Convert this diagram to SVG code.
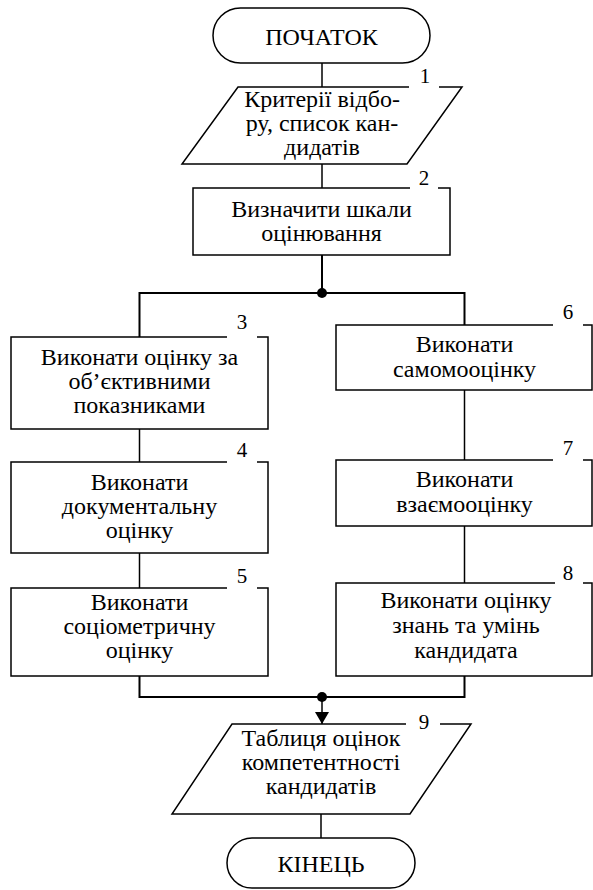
<svg xmlns="http://www.w3.org/2000/svg" width="593" height="890" viewBox="0 0 593 890">
<style>
.s{fill:#fff;stroke:#000;stroke-width:1.5}
.t{font-family:'Liberation Serif','Times New Roman','DejaVu Serif',serif;font-size:24px;text-anchor:middle;fill:#000}
.n{font-family:'Liberation Serif','Times New Roman','DejaVu Serif',serif;font-size:21px;text-anchor:middle;fill:#000}
.c{fill:none;stroke:#000;stroke-width:1.5}
.b{fill:none;stroke:#000;stroke-width:2}
.w{stroke:#fff;stroke-width:3}
</style>
<defs>
<marker id="arr" viewBox="0 0 12 20" refX="12" refY="10" markerWidth="12" markerHeight="20" markerUnits="userSpaceOnUse" orient="auto">
<path d="M0,3 L12,10 L0,17 Z" fill="#000"/>
</marker>
</defs>
<rect x="0" y="0" width="593" height="890" fill="#fff"/>
<g id="connectors">
<line class="c" x1="322" y1="63" x2="322" y2="87"/>
<line class="c" x1="322" y1="164" x2="322" y2="188"/>
<line class="b" x1="322" y1="255" x2="322" y2="293"/>
<polyline class="b" points="139.5,337 139.5,293 464.5,293 464.5,325"/>
<line class="c" x1="139.5" y1="429" x2="139.5" y2="462"/>
<line class="c" x1="139.5" y1="553" x2="139.5" y2="588"/>
<line class="c" x1="464.5" y1="390" x2="464.5" y2="460"/>
<line class="c" x1="464.5" y1="526" x2="464.5" y2="583"/>
<polyline class="b" points="139.5,676 139.5,697 464.5,697 464.5,676"/>
<line class="c" x1="322" y1="697" x2="322" y2="724" marker-end="url(#arr)"/>
<line class="c" x1="321" y1="814" x2="321" y2="838"/>
<circle cx="322" cy="293" r="5" fill="#000"/>
<circle cx="322" cy="697" r="5" fill="#000"/>
</g>
<g id="start">
<rect class="s" x="213" y="8" width="217" height="55" rx="27.5"/>
<text class="t" x="321.5" y="45">ПОЧАТОК</text>
</g>
<g id="n1">
<polygon class="s" points="238,87 462,87 407,164 182,164"/>
<line class="w" x1="409" y1="87" x2="439" y2="87"/>
<text class="n" x="425" y="83">1</text>
<text class="t" x="322" y="107">Критерії відбо-</text>
<text class="t" x="322" y="131">ру, список кан-</text>
<text class="t" x="322" y="155">дидатів</text>
</g>
<g id="n2">
<rect class="s" x="193" y="188" width="257" height="67"/>
<line class="w" x1="410" y1="188" x2="438" y2="188"/>
<text class="n" x="424" y="185">2</text>
<text class="t" x="321.5" y="217">Визначити шкали</text>
<text class="t" x="321.5" y="241">оцінювання</text>
</g>
<g id="n3">
<rect class="s" x="11" y="337" width="257" height="92"/>
<line class="w" x1="227" y1="337" x2="257" y2="337"/>
<text class="n" x="242" y="329">3</text>
<text class="t" x="139.5" y="365">Виконати оцінку за</text>
<text class="t" x="139.5" y="389">об’єктивними</text>
<text class="t" x="139.5" y="413">показниками</text>
</g>
<g id="n4">
<rect class="s" x="11" y="462" width="257" height="91"/>
<line class="w" x1="227" y1="462" x2="257" y2="462"/>
<text class="n" x="242" y="457">4</text>
<text class="t" x="139.5" y="490">Виконати</text>
<text class="t" x="139.5" y="514">документальну</text>
<text class="t" x="139.5" y="538">оцінку</text>
</g>
<g id="n5">
<rect class="s" x="11" y="588" width="257" height="88"/>
<line class="w" x1="227" y1="588" x2="257" y2="588"/>
<text class="n" x="242" y="583">5</text>
<text class="t" x="139.5" y="610">Виконати</text>
<text class="t" x="139.5" y="634">соціометричну</text>
<text class="t" x="139.5" y="658">оцінку</text>
</g>
<g id="n6">
<rect class="s" x="336" y="325" width="256" height="65"/>
<line class="w" x1="553" y1="325" x2="583" y2="325"/>
<text class="n" x="568" y="319">6</text>
<text class="t" x="464.5" y="352">Виконати</text>
<text class="t" x="464.5" y="377">самомооцінку</text>
</g>
<g id="n7">
<rect class="s" x="336" y="460" width="256" height="66"/>
<line class="w" x1="553" y1="460" x2="583" y2="460"/>
<text class="n" x="568" y="455">7</text>
<text class="t" x="464.5" y="487">Виконати</text>
<text class="t" x="464.5" y="512">взаємооцінку</text>
</g>
<g id="n8">
<rect class="s" x="336" y="583" width="256" height="93"/>
<line class="w" x1="555" y1="583" x2="583" y2="583"/>
<text class="n" x="568" y="580">8</text>
<text class="t" x="466" y="608">Виконати оцінку</text>
<text class="t" x="466" y="633">знань та умінь</text>
<text class="t" x="466" y="658">кандидата</text>
</g>
<g id="n9">
<polygon class="s" points="232,724 471,724 410,814 172,814"/>
<line class="w" x1="406" y1="724" x2="440" y2="724"/>
<text class="n" x="424" y="729">9</text>
<text class="t" x="321" y="746">Таблиця оцінок</text>
<text class="t" x="321" y="770">компетентності</text>
<text class="t" x="321" y="794">кандидатів</text>
</g>
<g id="end">
<rect class="s" x="227" y="838" width="188" height="50" rx="25"/>
<text class="t" x="321" y="872">КІНЕЦЬ</text>
</g>
</svg>
